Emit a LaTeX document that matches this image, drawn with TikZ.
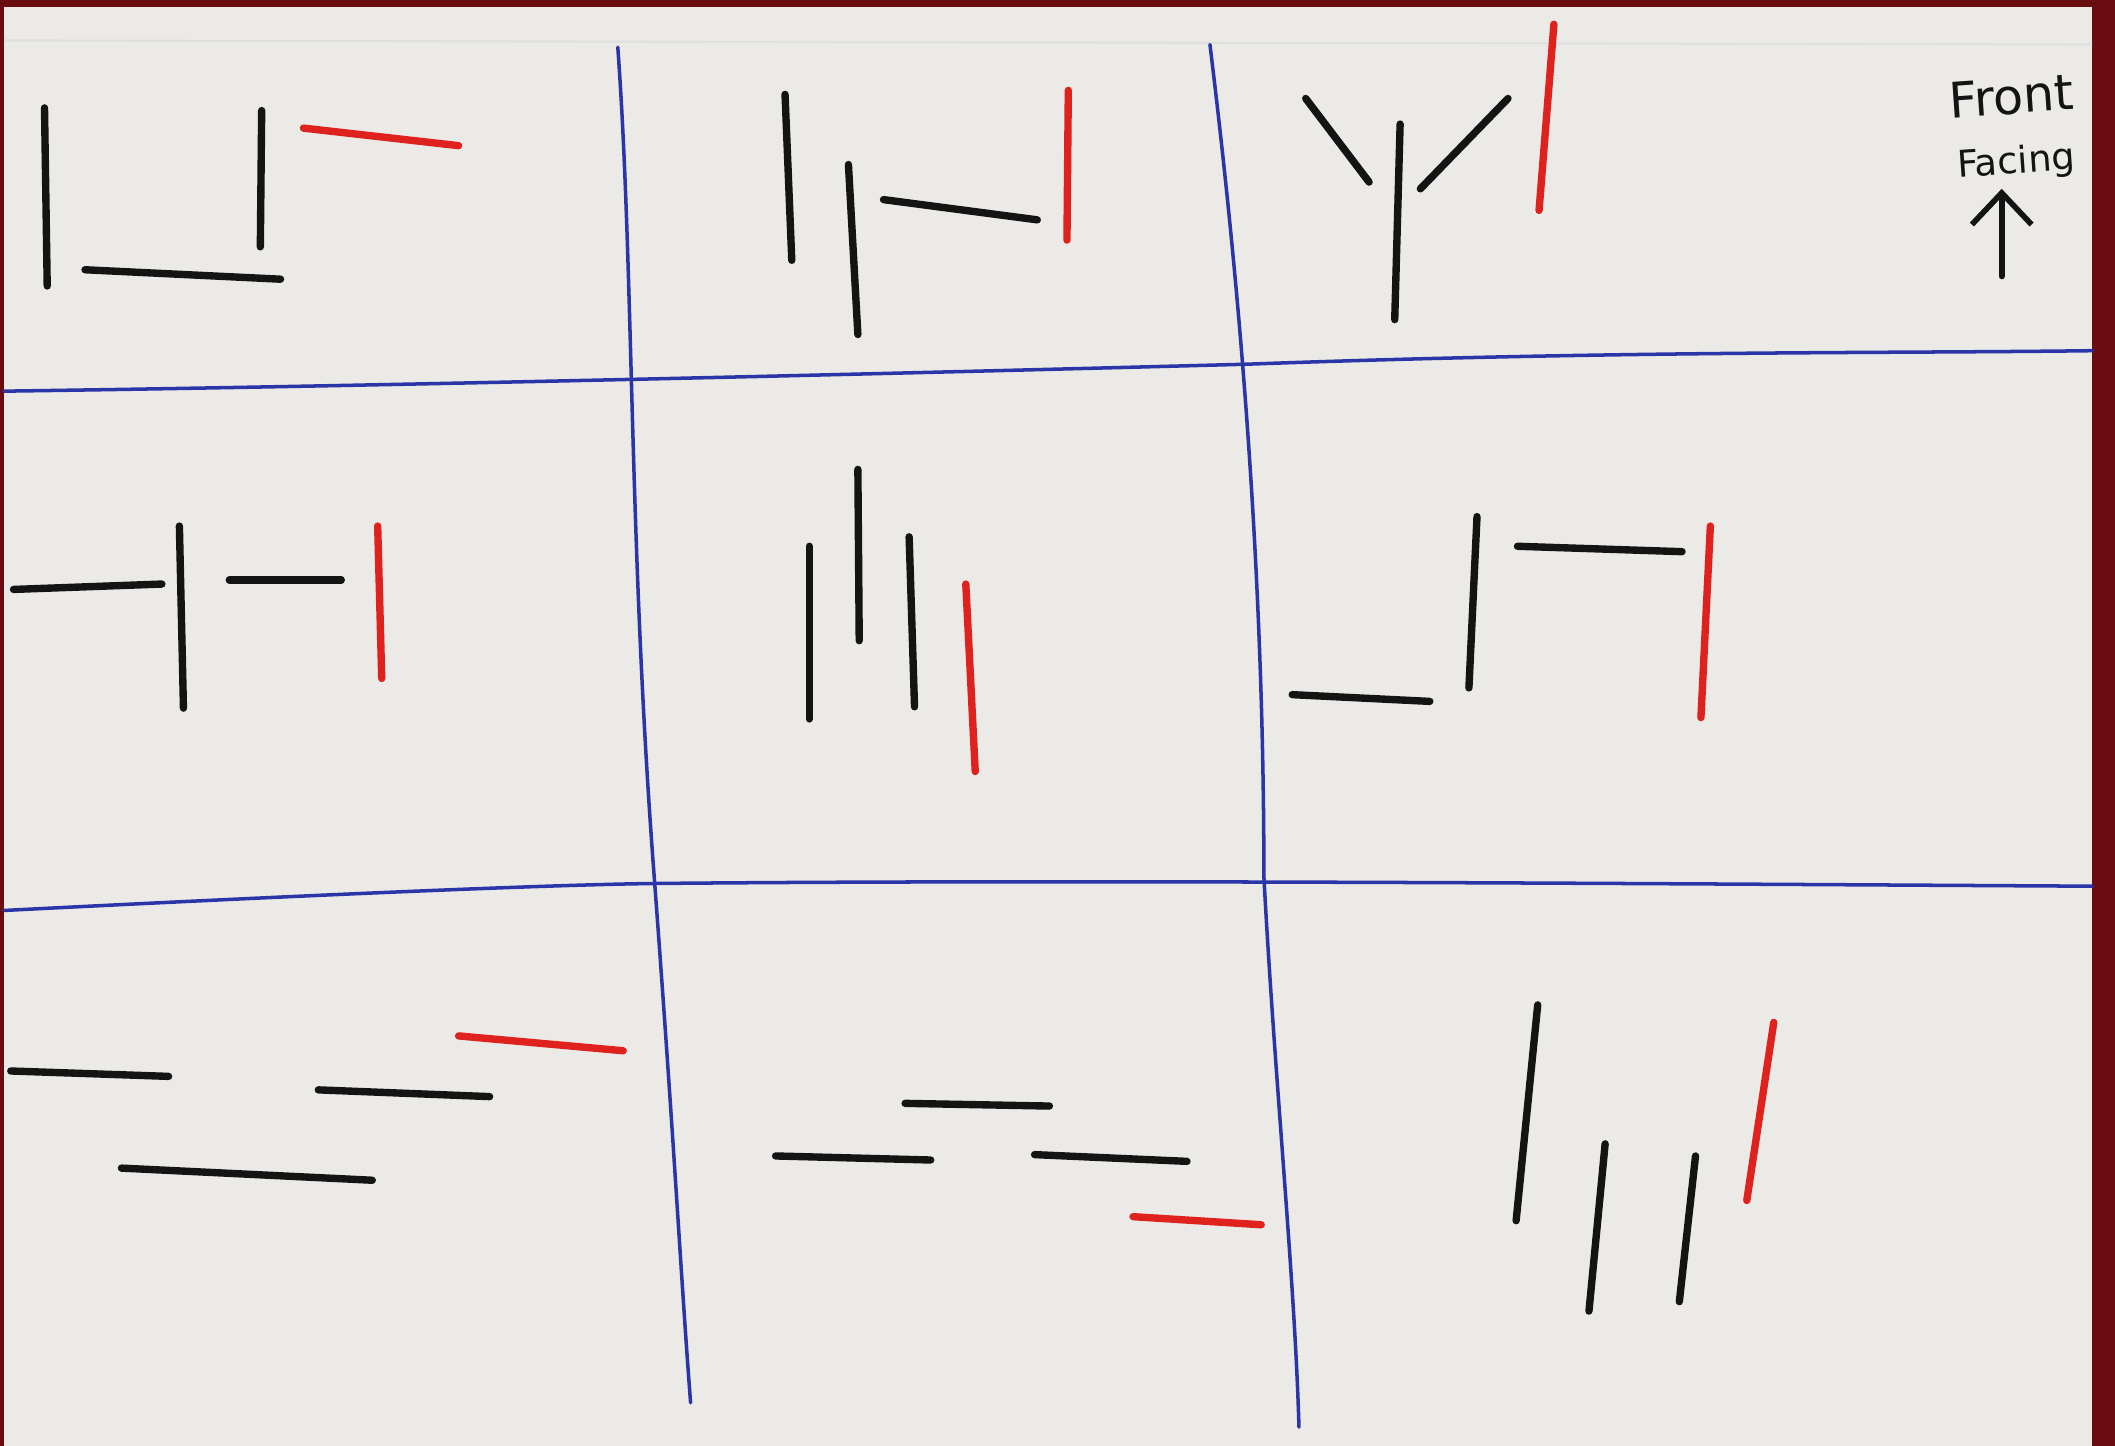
\documentclass[tikz,border=0pt]{standalone}
\usepackage{fontspec}
\setmainfont{DejaVu Sans}
\usetikzlibrary{arrows.meta}
\definecolor{board}{HTML}{6A0D10}
\definecolor{paper}{HTML}{ECEAE6}
\definecolor{gridblue}{HTML}{2A36A8}
\definecolor{penred}{HTML}{E0221E}
\definecolor{penblack}{HTML}{141414}
\tikzset{
  gridline/.style={draw=gridblue, line width=1pt, line cap=round},
  blackpen/.style={draw=penblack, line width=2.1pt, line cap=round},
  redpen/.style={draw=penred, line width=2.1pt, line cap=round},
}
\begin{document}
\begin{tikzpicture}[x=0.013489cm, y=-0.013489cm]
        \useasboundingbox (0,0) rectangle (1568,1072);
        \fill[board] (0,0) rectangle (1568,1072);
        \fill[paper] (3,5) rectangle (1551,1072);
        \draw[gray!25, line width=0.6pt] (3,30) -- (1551,33);

        % grid
        \draw[gridline] (458,35) .. controls (470,200) and (466,400) .. (485,650) .. controls (500,850) and (505,950) .. (512,1040);
        \draw[gridline] (897,33) .. controls (915,180) and (937,400) .. (937,650) .. controls (945,800) and (960,950) .. (963,1058);
        \draw[gridline] (3,290) .. controls (300,286) and (700,276) .. (925,270) .. controls (1200,260) and (1400,262) .. (1551,260);
        \draw[gridline] (3,675) .. controls (200,665) and (400,656) .. (485,655) .. controls (800,652) and (1200,655) .. (1551,657);

        % row 1
        \draw[blackpen] (33,80) -- (35,212);
        \draw[blackpen] (63,200) -- (208,207);
        \draw[blackpen] (194,82) -- (193,183);
        \draw[redpen] (225,95) -- (340,108);

        \draw[blackpen] (582,70) -- (587,193);
        \draw[blackpen] (629,122) -- (636,248);
        \draw[blackpen] (655,148) -- (769,163);
        \draw[redpen] (792,67) -- (791,178);

        \draw[blackpen] (968,73) -- (1015,135);
        \draw[blackpen] (1038,92) -- (1034,237);
        \draw[blackpen] (1053,140) -- (1118,73);
        \draw[redpen] (1152,18) -- (1141,156);

        % row 2
        \draw[blackpen] (10,437) -- (120,433);
        \draw[blackpen] (133,390) -- (136,525);
        \draw[blackpen] (170,430) -- (253,430);
        \draw[redpen] (280,390) -- (283,503);

        \draw[blackpen] (600,405) -- (600,533);
        \draw[blackpen] (636,348) -- (637,475);
        \draw[blackpen] (674,398) -- (678,524);
        \draw[redpen] (716,433) -- (723,572);

        \draw[blackpen] (1095,383) -- (1089,510);
        \draw[blackpen] (1125,405) -- (1247,409);
        \draw[redpen] (1268,390) -- (1261,532);
        \draw[blackpen] (958,515) -- (1060,520);

        % row 3
        \draw[blackpen] (8,794) -- (125,798);
        \draw[redpen] (340,768) -- (462,779);
        \draw[blackpen] (236,808) -- (363,813);
        \draw[blackpen] (90,866) -- (276,875);

        \draw[blackpen] (671,818) -- (778,820);
        \draw[blackpen] (575,857) -- (690,860);
        \draw[blackpen] (767,856) -- (880,861);
        \draw[redpen] (840,902) -- (935,908);

        \draw[blackpen] (1140,745) -- (1124,905);
        \draw[blackpen] (1190,848) -- (1178,972);
        \draw[blackpen] (1257,857) -- (1245,965);
        \draw[redpen] (1315,758) -- (1295,890);

        % label
        \node[rotate=4, inner sep=0pt, align=center, text=penblack] (frontfacing) at (1493,96)
            {{\fontsize{14}{15}\selectfont Front}\\[5pt]{\fontsize{10.5}{11}\selectfont Facing}};
        \coordinate (arrowfoot) at (1484,205);
        \coordinate (arrowtip) at (1484,140);
        \draw[blackpen, line width=1.6pt, -{Straight Barb[length=9pt, width=17pt]}] (arrowfoot) -- (arrowtip);
    \end{tikzpicture}
\end{document}
